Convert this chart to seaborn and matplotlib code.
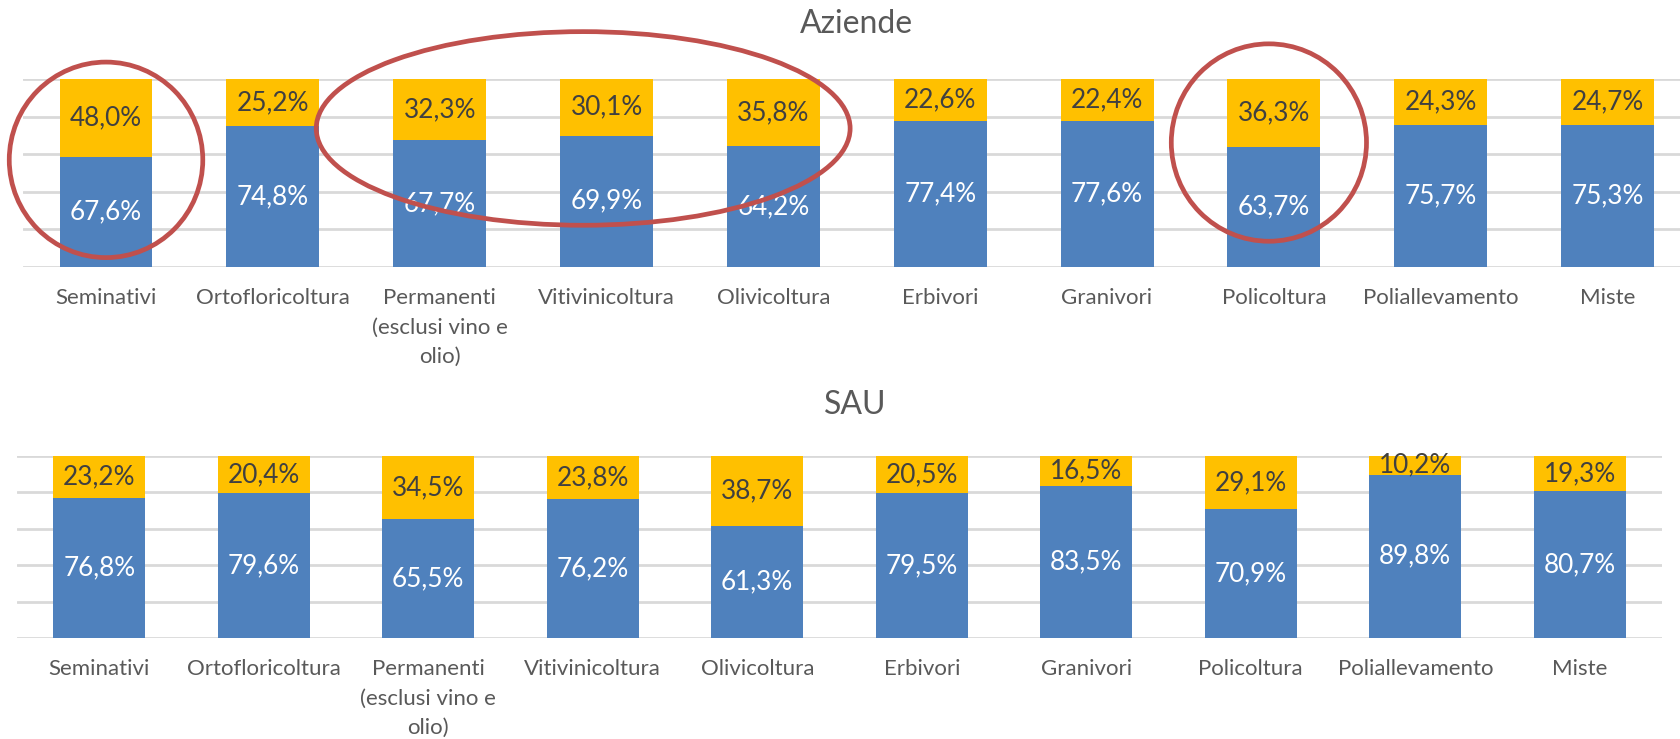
import numpy as np
import pandas as pd
import seaborn as sns
import matplotlib
matplotlib.use("Agg")
import matplotlib.pyplot as plt
from matplotlib.patches import Ellipse

categories = ["Seminativi", "Ortofloricoltura", "Permanenti\n(esclusi vino e\nolio)",
              "Vitivinicoltura", "Olivicoltura", "Erbivori", "Granivori",
              "Policoltura", "Poliallevamento", "Miste"]

aziende_blue = [67.6, 74.8, 67.7, 69.9, 64.2, 77.4, 77.6, 63.7, 75.7, 75.3]
aziende_orange = [48.0, 25.2, 32.3, 30.1, 35.8, 22.6, 22.4, 36.3, 24.3, 24.7]
sau_blue = [76.8, 79.6, 65.5, 76.2, 61.3, 79.5, 83.5, 70.9, 89.8, 80.7]
sau_orange = [23.2, 20.4, 34.5, 23.8, 38.7, 20.5, 16.5, 29.1, 10.2, 19.3]

BLUE = "#4F81BD"
ORANGE = "#FFC000"
GRID = "#D9D9D9"
TXT = "#595959"

sns.set_theme(style="white")
plt.rcParams["font.family"] = ["Lato", "DejaVu Sans"]

W, H = 1680, 739
fig = plt.figure(figsize=(W / 100, H / 100), dpi=100)


def stacked(ax, blue, orange):
    df = pd.DataFrame({"cat": categories, "blue": blue, "orange": orange})
    tot = df["blue"] + df["orange"]
    # excel 100% stacked: shares of the row total
    df["b_share"] = df["blue"] / tot
    df["top"] = (df["blue"] + df["orange"]) / tot
    sns.barplot(data=df, x="cat", y="top", color=ORANGE, saturation=1,
                width=0.557, ax=ax, errorbar=None, linewidth=0)
    sns.barplot(data=df, x="cat", y="b_share", color=BLUE, saturation=1,
                width=0.557, ax=ax, errorbar=None, linewidth=0)
    for i, r in df.iterrows():
        ax.text(i, r["b_share"] / 2, f"{r['blue']:.1f}%".replace(".", ","),
                ha="center", va="center", color="white", fontsize=18.8)
        ax.text(i, r["b_share"] + (r["top"] - r["b_share"]) / 2,
                f"{r['orange']:.1f}%".replace(".", ","),
                ha="center", va="center", color="#404040", fontsize=18.8)
    ax.set_ylim(0, 1)
    ax.set_yticks(np.arange(0, 1.01, 0.2))
    ax.set_yticklabels([])
    ax.yaxis.grid(True, color=GRID, lw=2)
    ax.set_axisbelow(True)
    for s in ax.spines.values():
        s.set_visible(False)
    ax.set_xlabel("")
    ax.set_ylabel("")
    ax.tick_params(axis="x", length=0, pad=15, labelsize=16, labelcolor=TXT)
    ax.tick_params(axis="y", length=0)
    for lab in ax.get_xticklabels():
        lab.set_linespacing(1.6)
    return ax


ax1 = fig.add_axes([22.6 / W, (H - 267) / H, (W - 22.6) / W, 188 / H])
stacked(ax1, aziende_blue, aziende_orange)
ax1.set_xlim(-0.5, 9.5 - 11 / 166.9)
fig.text(856 / W, 1 - 24 / H, "Aziende", fontsize=23, color=TXT,
         ha="center", va="center")

ax2 = fig.add_axes([17 / W, (H - 638) / H, 1645 / W, 182 / H])
stacked(ax2, sau_blue, sau_orange)
ax2.set_xlim(-0.5, 9.5)
fig.text(855 / W, 1 - 405 / H, "SAU", fontsize=23, color=TXT,
         ha="center", va="center")

# red highlight rings on the top chart
for cx, cy, w, h in [(0, 0.57, 1.16, 1.04), (2.86, 0.737, 3.2, 1.03), (6.97, 0.662, 1.17, 1.05)]:
    ax1.add_patch(Ellipse((cx, cy), w, h, fill=False, edgecolor="#C0504D",
                          lw=3.4, clip_on=False, zorder=10))

fig.savefig("out.png", dpi=100)
